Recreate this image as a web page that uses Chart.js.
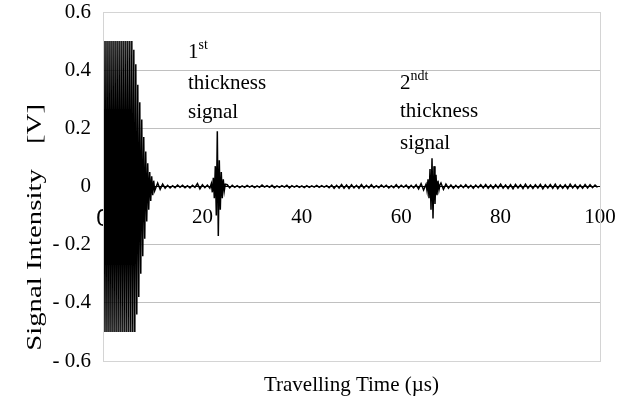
<!DOCTYPE html>
<html>
<head>
<meta charset="utf-8">
<title>Signal Intensity vs Travelling Time</title>
<script src="https://cdn.jsdelivr.net/npm/chart.js@4"></script>
<style>
  html, body { margin: 0; padding: 0; background: #fff; }
  #chart { display: block; }
</style>
</head>
<body>
<canvas id="chart" width="640" height="409"></canvas>
<script>
// Datos (tiempo en µs, señal en V)
const xTicks = [0, 20, 40, 60, 80, 100];
const yTicks = [-0.6, -0.4, -0.2, 0, 0.2, 0.4, 0.6];

// pulso inicial, muestreado cada 0.2 µs desde 0
const burstStart = 0, burstStep = 0.2;
const burstSignal = [
  0, 0.5, -0.5, 0.5, -0.5, 0.5, -0.5, 0.5, -0.5, 0.5,
  -0.5, 0.5, -0.5, 0.5, -0.5, 0.5, -0.5, 0.5, -0.5, 0.5,
  -0.5, 0.5, -0.5, 0.5, -0.5, 0.5, -0.5, 0.5, -0.5, 0.5,
  -0.5, 0.47, -0.5, 0.42, -0.44, 0.35, -0.38, 0.29, -0.3, 0.23,
  -0.24, 0.17, -0.18, 0.12, -0.12, 0.08, -0.08, 0.05, -0.05, 0.035,
  -0.03, 0.02, -0.015
];

// ruido entre pulsos, cada 0.5 µs
const quiet1Start = 11, quietStep = 0.5;
const quiet1Signal = [
  0.012, -0.01, 0.008, -0.006, 0.004, -0.005, 0.003, -0.004, 0.005, -0.003,
  0.004, -0.004, 0.003, -0.005, 0.004, -0.003, 0.01, -0.008, 0.006, -0.004,
  0.005, -0.006
];

// primer eco (1st thickness signal)
const echo1Start = 21.8, echoStep = 0.2;
const echo1Signal = [
  0.01, -0.02, 0.03, -0.04, 0.07, -0.1, 0.19, -0.17, 0.09, -0.08,
  0.05, -0.04, 0.025, -0.015, 0.008
];

const quiet2Start = 25;
const quiet2Signal = [
  0.006, -0.005, 0.004, -0.003, 0.003, -0.004, 0.002, -0.003, 0.004, -0.002,
  0.003, -0.004, 0.002, -0.003, 0.005, -0.002, 0.003, -0.003, 0.004, -0.004,
  0.002, -0.003, 0.003, -0.002, 0.004, -0.005, 0.003, -0.002, 0.003, -0.003,
  0.002, -0.004, 0.003, -0.003, 0.002, -0.002, 0.004, -0.003, 0.003, -0.002,
  0.003, -0.004, 0.005, -0.006, 0.004, -0.005, 0.007, -0.006, 0.005, -0.007,
  0.006, -0.005, 0.004, -0.006, 0.007, -0.005, 0.004, -0.005, 0.006, -0.004,
  0.003, -0.004, 0.005, -0.003, 0.004, -0.005, 0.003, -0.004, 0.006, -0.005,
  0.004, -0.003, 0.005, -0.006, 0.004, -0.005, 0.006, -0.008, 0.01, -0.012
];

// segundo eco (2nd thickness signal)
const echo2Start = 65;
const echo2Signal = [
  0.008, -0.015, 0.025, -0.04, 0.06, -0.08, 0.097, -0.11, 0.07, -0.06,
  0.04, -0.03, 0.02, -0.012, 0.006
];

const quiet3Start = 68;
const quiet3Signal = [
  0.012, -0.01, 0.008, -0.006, 0.005, -0.006, 0.004, -0.005, 0.005, -0.004,
  0.006, -0.005, 0.004, -0.006, 0.005, -0.004, 0.006, -0.005, 0.007, -0.006,
  0.005, -0.007, 0.006, -0.005, 0.008, -0.006, 0.005, -0.007, 0.006, -0.008,
  0.007, -0.005, 0.006, -0.007, 0.008, -0.006, 0.005, -0.007, 0.006, -0.005,
  0.007, -0.008, 0.006, -0.005, 0.007, -0.006, 0.008, -0.007, 0.005, -0.006,
  0.006, -0.007, 0.008, -0.005, 0.006, -0.007, 0.005, -0.006, 0.007, -0.005,
  0.006, -0.004, 0.005, -0.003
];

function toPoints(start, step, values) {
  return values.map((v, i) => ({ x: +(start + i * step).toFixed(2), y: v }));
}

const signalPoints = [].concat(
  toPoints(burstStart, burstStep, burstSignal),
  toPoints(quiet1Start, quietStep, quiet1Signal),
  toPoints(echo1Start, echoStep, echo1Signal),
  toPoints(quiet2Start, quietStep, quiet2Signal),
  toPoints(echo2Start, echoStep, echo2Signal),
  toPoints(quiet3Start, quietStep, quiet3Signal)
);

const serif = "'Liberation Serif', 'Times New Roman', serif";

// Marco, títulos de ejes y anotaciones
const decorPlugin = {
  id: "decor",
  afterDraw(chart) {
    const ctx = chart.ctx;
    const a = chart.chartArea;
    ctx.save();
    ctx.strokeStyle = "#d4d4d4";
    ctx.lineWidth = 1;
    ctx.strokeRect(Math.round(a.left) + 0.5, Math.round(a.top) + 0.5,
      Math.round(a.right - a.left), Math.round(a.bottom - a.top));

    ctx.fillStyle = "#000";
    ctx.font = "21px " + serif;
    ctx.textAlign = "center";
    ctx.textBaseline = "middle";
    ctx.fillText("Travelling Time (\u00b5s)", (a.left + a.right) / 2, 385);

    // título vertical (en el original sale estirado)
    ctx.font = "20px " + serif;
    ctx.save();
    ctx.translate(36, 260);
    ctx.rotate(-Math.PI / 2);
    ctx.scale(1.44, 1);
    ctx.fillText("Signal Intensity", 0, 0);
    ctx.restore();
    ctx.save();
    ctx.translate(36, 124);
    ctx.rotate(-Math.PI / 2);
    ctx.scale(1.44, 1);
    ctx.fillText("[V]", 0, 0);
    ctx.restore();

    ctx.textAlign = "left";
    ctx.textBaseline = "alphabetic";
    function sup(x, y, base, small) {
      ctx.font = "21px " + serif;
      ctx.fillText(base, x, y);
      const w = ctx.measureText(base).width;
      ctx.font = "14px " + serif;
      ctx.fillText(small, x + w, y - 9);
      ctx.font = "21px " + serif;
    }
    sup(188, 58, "1", "st");
    ctx.fillText("thickness", 188, 89);
    ctx.fillText("signal", 188, 118);

    sup(400, 89, "2", "ndt");
    ctx.fillText("thickness", 400, 117);
    ctx.fillText("signal", 400, 149);
    ctx.restore();
  }
};

const ctx = document.getElementById("chart").getContext("2d");
const chart = new Chart(ctx, {
  type: "line",
  data: {
    datasets: [{
      data: signalPoints,
      borderColor: "#000",
      borderWidth: 1.5,
      pointRadius: 0,
      tension: 0,
      fill: false
    }]
  },
  options: {
    responsive: false,
    devicePixelRatio: 1,
    animation: false,
    parsing: false,
    layout: { padding: { left: 0, top: 12, right: 40, bottom: 48 } },
    plugins: {
      legend: { display: false },
      tooltip: { enabled: false }
    },
    scales: {
      x: {
        type: "linear",
        position: { y: 0 },
        min: 0,
        max: 100,
        afterBuildTicks: s => { s.ticks = xTicks.map(v => ({ value: v })); },
        grid: { drawOnChartArea: false, drawTicks: false },
        border: { display: true, color: "#000" },
        ticks: {
          padding: 18,
          color: "#000",
          maxRotation: 0,
          font: c => (c.tick && c.tick.value === 0)
            ? { family: "'Liberation Sans', Arial, sans-serif", size: 24 }
            : { family: serif, size: 21 }
        }
      },
      y: {
        type: "linear",
        min: -0.6,
        max: 0.6,
        afterBuildTicks: s => { s.ticks = yTicks.map(v => ({ value: v })); },
        afterFit: s => { s.width = 103; s.paddingTop = 0; s.paddingBottom = 0; },
        grid: { color: "#c0c0c0", drawTicks: false },
        border: { display: true, color: "#d4d4d4" },
        ticks: {
          padding: 12,
          color: "#000",
          font: { family: serif, size: 21 },
          callback: v => {
            const r = Math.round(v * 10) / 10;
            if (r === 0) return "0";
            return r < 0 ? "- " + Math.abs(r).toFixed(1) : r.toFixed(1);
          }
        }
      }
    }
  },
  plugins: [decorPlugin]
});
</script>
</body>
</html>
